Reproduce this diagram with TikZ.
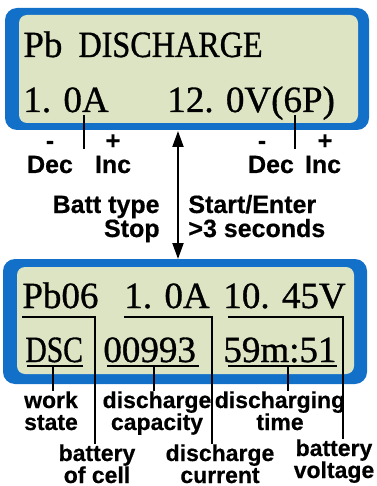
\documentclass[tikz,border=0pt]{standalone}
\usepackage{fontspec}
\usepackage{graphicx}
\setmainfont{Liberation Serif}
\setsansfont{Liberation Sans}
\newfontfamily\lcdfont{Liberation Serif}[FakeBold=0.9]
\newfontfamily\tagfont{Liberation Sans Bold}[FakeBold=0.5]
\usetikzlibrary{arrows.meta}
\definecolor{lcdblue}{RGB}{18,112,200}
\definecolor{lcdpanel}{RGB}{221,228,196}
\tikzset{
  lcd/.style={inner sep=0pt, anchor=base west, font=\lcdfont\fontsize{18.5}{18}\selectfont},
  keytxt/.style={inner sep=0pt, anchor=base, font=\tagfont\fontsize{12.5}{12}\selectfont},
  tagtxt/.style={inner sep=0pt, anchor=base, align=center, font=\tagfont\fontsize{11.5}{11}\selectfont},
  lead/.style={line width=1pt}
}
\begin{document}
\begin{tikzpicture}[x=0.5pt,y=-0.5pt]
  \useasboundingbox (0,0) rectangle (376,486);
  \fill[lcdblue, rounded corners=6pt] (5,8) rectangle (369,130);
  \fill[lcdpanel, rounded corners=4pt] (19,15) rectangle (358,123);
  \node[lcd] (mode) at (23,57) {Pb\hspace{8pt}\scalebox{0.87}[1]{DISCHARGE}};
  \node[lcd] (setcur) at (23,112) {1. 0A};
  \node[lcd] (setvolt) at (167,112) {12. 0V(6P)};
  \node[keytxt] (curminus) at (50,149) {-};
  \node[keytxt] (curplus) at (113,149) {+};
  \node[keytxt] (curdec) at (50,173) {Dec};
  \node[keytxt] (curinc) at (113,173) {Inc};
  \node[keytxt] (voltminus) at (262,149) {-};
  \node[keytxt] (voltplus) at (325,149) {+};
  \node[keytxt] (voltdec) at (271,173) {Dec};
  \node[keytxt] (voltinc) at (323,173) {Inc};
  \coordinate (curtick) at (84,115);
  \coordinate (volttick) at (295,115);
  \draw[lead] (curtick) -- (curtick |- curplus.south);
  \draw[lead] (volttick) -- (volttick |- voltplus.south);
  \node[keytxt, anchor=base east, align=right] (battkey) at (160,237) {Batt type\\Stop};
  \node[keytxt, anchor=base west, align=left] (startkey) at (188,237) {Start/Enter\\>3 seconds};
  \coordinate (arrtop) at (178,131);
  \coordinate (arrbot) at (178,259);
  \draw[lead, {Triangle[length=8pt,width=5.5pt]}-{Triangle[length=8pt,width=5.5pt]}] (arrtop) -- (arrbot);
  \fill[lcdblue, rounded corners=6pt] (3,259) rectangle (367,384);
  \fill[lcdpanel, rounded corners=4pt] (17,267) rectangle (354,374);
  \node[lcd] (cells) at (22,308) {Pb06};
  \node[lcd] (dcur) at (124,308) {1. 0A};
  \node[lcd] (bvolt) at (223,308) {10. 45V};
  \node[lcd] (state) at (25,362) {\scalebox{0.8}[1]{DSC}};
  \node[lcd] (cap) at (103,362) {00993};
  \node[lcd] (time) at (223,362) {59m:51};
  \node[tagtxt] (statetag) at (51,430) {work\\state};
  \node[tagtxt] (captag) at (157,430) {discharge\\capacity};
  \node[tagtxt] (timetag) at (280,430) {discharging\\time};
  \node[tagtxt] (celltag) at (97,483) {battery\\of cell};
  \node[tagtxt] (curtag) at (220,483) {discharge\\current};
  \node[tagtxt] (volttag) at (334,478) {battery\\voltage};
  \draw[lead] ([yshift=-4.5pt]cells.base west) -| ([xshift=-1pt]celltag.north);
  \draw[lead] ([yshift=-4.5pt]dcur.base west) -| ([xshift=-4pt]curtag.north);
  \draw[lead] ([xshift=2.5pt,yshift=-4.5pt]bvolt.base west) -| ([xshift=4.5pt]volttag.north);
  \draw[lead] (27,366) -- (83,366);
  \draw[lead] (107,366) -- (199,366);
  \draw[lead] (228,366) -- (337,366);
  \coordinate (stateline) at (53,366);
  \coordinate (capline) at (154,366);
  \coordinate (timeline) at (288,366);
  \draw[lead] (stateline) -- (stateline |- statetag.north);
  \draw[lead] (capline) -- (capline |- captag.north);
  \draw[lead] (timeline) -- (timeline |- timetag.north);
\end{tikzpicture}
\end{document}
